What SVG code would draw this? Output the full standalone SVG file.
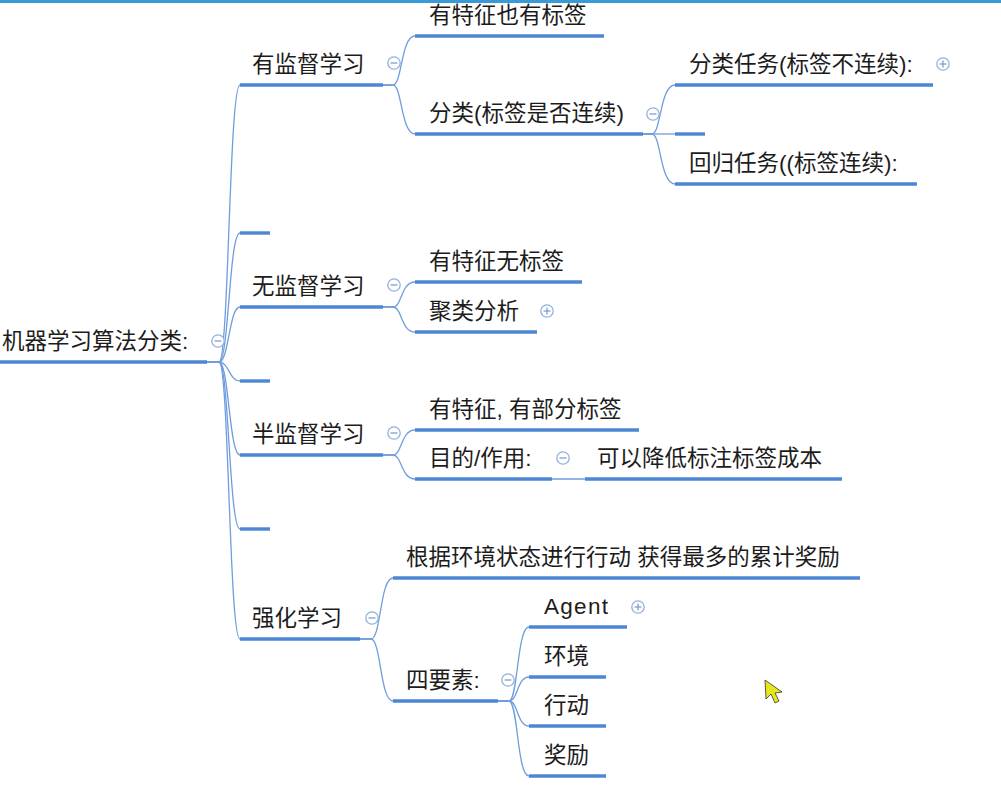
<svg xmlns="http://www.w3.org/2000/svg" width="1001" height="792" viewBox="0 0 1001 792">
<style>
  text { font-family: "Liberation Sans", "Noto Sans CJK SC", sans-serif; font-size: 22.5px; fill: #1c1c1c; }
  .ul { stroke: #4d86d3; stroke-width: 3.4; stroke-linecap: butt; fill: none; }
  .cn { stroke: #6f9ddd; stroke-width: 1.3; fill: none; }
  .ic { fill: #ffffff; stroke: #93b0da; stroke-width: 1.3; }
  .icl { stroke: #7f9fcc; stroke-width: 1.3; }
</style>
<defs>
  <g id="minus"><circle class="ic" cx="0" cy="0" r="6.2"/><line class="icl" x1="-3.5" y1="0" x2="3.5" y2="0"/></g>
  <g id="plus"><circle class="ic" cx="0" cy="0" r="6.2"/><line class="icl" x1="-3.5" y1="0" x2="3.5" y2="0"/><line class="icl" x1="0" y1="-3.5" x2="0" y2="3.5"/></g>
</defs>
<rect x="0" y="0" width="1001" height="792" fill="#ffffff"/>
<rect x="0" y="0" width="1001" height="3" fill="#3a9ad6"/>

<g id="connectors">
  <path class="cn" d="M207 362 H219 C229 362,229 85,240 85"/>
  <path class="cn" d="M207 362 H219 C229 362,229 233,240 233"/>
  <path class="cn" d="M207 362 H219 C229 362,229 307,240 307"/>
  <path class="cn" d="M207 362 H219 C229 362,229 381,240 381"/>
  <path class="cn" d="M207 362 H219 C229 362,229 455,240 455"/>
  <path class="cn" d="M207 362 H219 C229 362,229 529,240 529"/>
  <path class="cn" d="M207 362 H219 C229 362,229 639,240 639"/>

  <path class="cn" d="M383 85 H393 C402 85,401 36,415 36"/>
  <path class="cn" d="M383 85 H393 C402 85,401 134,415 134"/>

  <path class="cn" d="M643 134 H652 C661 134,660 85,675 85"/>
  <path class="cn" d="M643 134 L675 134"/>
  <path class="cn" d="M643 134 H652 C661 134,660 184,675 184"/>

  <path class="cn" d="M383 307 H393 C402 307,401 282,415 282"/>
  <path class="cn" d="M383 307 H393 C402 307,401 332,415 332"/>

  <path class="cn" d="M383 455 H393 C402 455,401 430,415 430"/>
  <path class="cn" d="M383 455 H393 C402 455,401 479,415 479"/>

  <path class="cn" d="M552 479 L585 479"/>

  <path class="cn" d="M360 639 H371 C381 639,380 578,393 578"/>
  <path class="cn" d="M360 639 H371 C381 639,380 701,393 701"/>

  <path class="cn" d="M498 701 H509 C518 701,517 627,529 627"/>
  <path class="cn" d="M498 701 H509 C518 701,517 677,529 677"/>
  <path class="cn" d="M498 701 H509 C518 701,517 726,529 726"/>
  <path class="cn" d="M498 701 H509 C518 701,517 776,529 776"/>
</g>

<g id="root">
  <text x="2" y="349">机器学习算法分类:</text>
  <line class="ul" x1="0" y1="362" x2="207" y2="362"/>
  <use href="#minus" x="218" y="341"/>
</g>

<g id="n-supervised">
  <text x="252" y="72">有监督学习</text>
  <line class="ul" x1="240" y1="85" x2="383" y2="85"/>
  <use href="#minus" x="394" y="63"/>
</g>
<g id="n-blank1"><line class="ul" x1="240" y1="233" x2="270" y2="233"/></g>
<g id="n-unsupervised">
  <text x="252" y="294">无监督学习</text>
  <line class="ul" x1="240" y1="307" x2="383" y2="307"/>
  <use href="#minus" x="394" y="285"/>
</g>
<g id="n-blank2"><line class="ul" x1="240" y1="381" x2="270" y2="381"/></g>
<g id="n-semi">
  <text x="252" y="442">半监督学习</text>
  <line class="ul" x1="240" y1="455" x2="383" y2="455"/>
  <use href="#minus" x="394" y="433"/>
</g>
<g id="n-blank3"><line class="ul" x1="240" y1="529" x2="270" y2="529"/></g>
<g id="n-rl">
  <text x="252" y="626">强化学习</text>
  <line class="ul" x1="240" y1="639" x2="360" y2="639"/>
  <use href="#minus" x="372" y="618"/>
</g>

<g id="n-sup-a">
  <text x="429" y="23">有特征也有标签</text>
  <line class="ul" x1="415" y1="36" x2="604" y2="36"/>
</g>
<g id="n-sup-b">
  <text x="429" y="121">分类(标签是否连续)</text>
  <line class="ul" x1="415" y1="134" x2="643" y2="134"/>
  <use href="#minus" x="653" y="114"/>
</g>
<g id="n-sup-b1">
  <text x="689" y="72">分类任务(标签不连续):</text>
  <line class="ul" x1="675" y1="85" x2="933" y2="85"/>
  <use href="#plus" x="943" y="64"/>
</g>
<g id="n-sup-b2"><line class="ul" x1="675" y1="134" x2="705" y2="134"/></g>
<g id="n-sup-b3">
  <text x="689" y="171">回归任务((标签连续):</text>
  <line class="ul" x1="675" y1="184" x2="917" y2="184"/>
</g>

<g id="n-uns-a">
  <text x="429" y="269">有特征无标签</text>
  <line class="ul" x1="415" y1="282" x2="582" y2="282"/>
</g>
<g id="n-uns-b">
  <text x="429" y="319">聚类分析</text>
  <line class="ul" x1="415" y1="332" x2="537" y2="332"/>
  <use href="#plus" x="547" y="311"/>
</g>

<g id="n-semi-a">
  <text x="429" y="417">有特征, 有部分标签</text>
  <line class="ul" x1="415" y1="430" x2="639" y2="430"/>
</g>
<g id="n-semi-b">
  <text x="429" y="466">目的/作用:</text>
  <line class="ul" x1="415" y1="479" x2="552" y2="479"/>
  <use href="#minus" x="563" y="458"/>
</g>
<g id="n-semi-b1">
  <text x="597" y="466">可以降低标注标签成本</text>
  <line class="ul" x1="585" y1="479" x2="842" y2="479"/>
</g>

<g id="n-rl-a">
  <text x="406" y="565">根据环境状态进行行动 获得最多的累计奖励</text>
  <line class="ul" x1="393" y1="578" x2="860" y2="578"/>
</g>
<g id="n-rl-b">
  <text x="406" y="688">四要素:</text>
  <line class="ul" x1="393" y1="701" x2="498" y2="701"/>
  <use href="#minus" x="508" y="680"/>
</g>
<g id="n-rl-b1">
  <text x="544" y="614" textLength="64" lengthAdjust="spacing">Agent</text>
  <line class="ul" x1="529" y1="627" x2="627" y2="627"/>
  <use href="#plus" x="638" y="607"/>
</g>
<g id="n-rl-b2">
  <text x="544" y="664">环境</text>
  <line class="ul" x1="529" y1="677" x2="606" y2="677"/>
</g>
<g id="n-rl-b3">
  <text x="544" y="713">行动</text>
  <line class="ul" x1="529" y1="726" x2="606" y2="726"/>
</g>
<g id="n-rl-b4">
  <text x="544" y="763">奖励</text>
  <line class="ul" x1="529" y1="776" x2="606" y2="776"/>
</g>

<polygon points="765,680 766,699 771,694 775,703 779,701 775,693 782,692" fill="#e6e61c" stroke="#333333" stroke-width="0.8" stroke-linejoin="round"/>
</svg>
